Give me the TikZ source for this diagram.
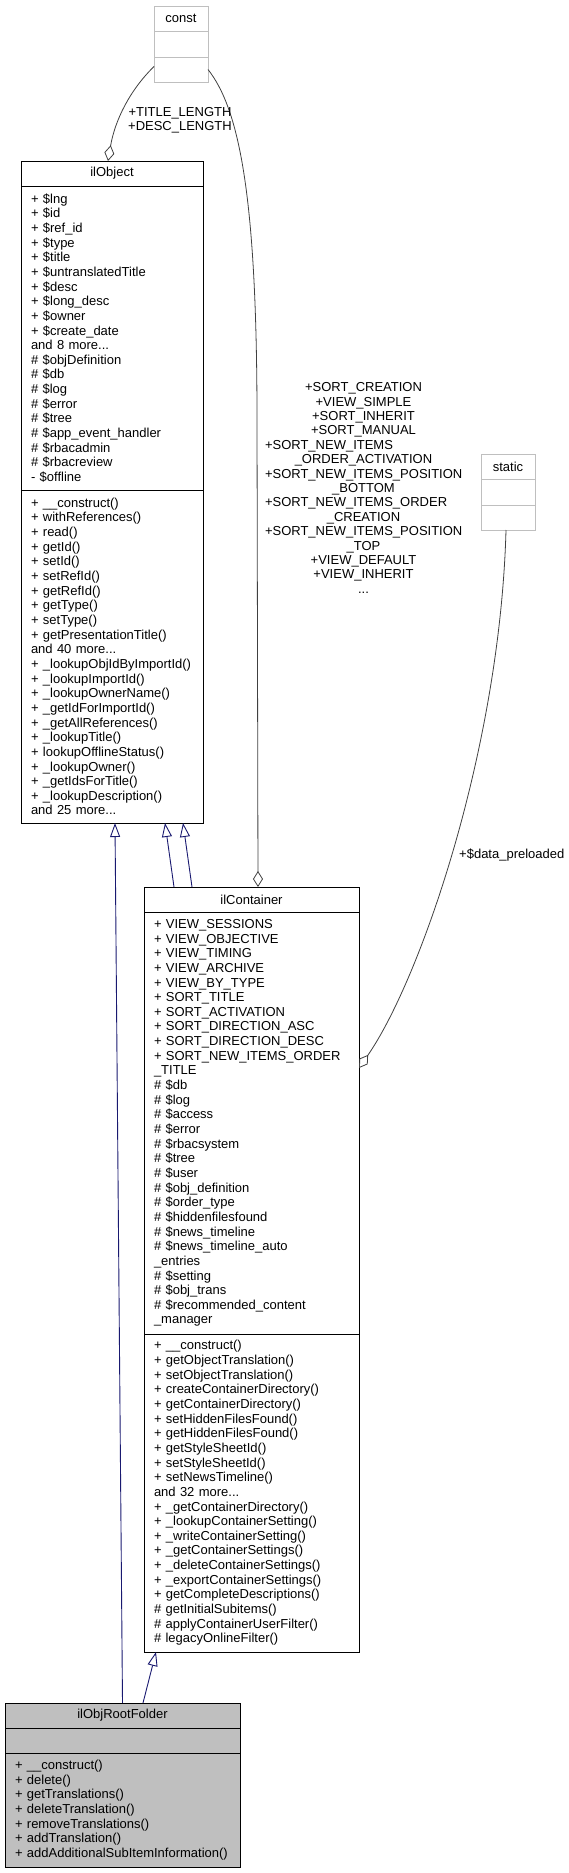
\documentclass[tikz,border=0pt]{standalone}
\usepackage{fontspec}
\setmainfont{Liberation Sans}
\usetikzlibrary{arrows.meta}
\definecolor{inheritblue}{HTML}{191970}
\definecolor{usegray}{HTML}{404040}
\definecolor{boxgray}{HTML}{BFBFBF}
\newcommand{\flushlabel}[1]{\makebox[197pt][l]{#1}}
\tikzset{
  umltext/.style={font=\fontsize{13}{14.65}\selectfont},
  umltitle/.style={draw, umltext, anchor=north west, inner sep=0pt, outer sep=0pt, line width=0.9pt},
  umlpart/.style={draw, umltext, anchor=north west, align=left, inner xsep=10pt, inner ysep=0pt, outer sep=0pt, line width=0.9pt},
  otherbox/.style={draw=boxgray},
  focusbox/.style={fill=boxgray},
  inherit/.style={inheritblue, line width=0.9pt, -{Triangle[open, length=14pt, width=10pt]}},
  aggr/.style={usegray, line width=0.8pt, -{Diamond[open, length=16pt, width=10pt]}},
  edgelabel/.style={font=\fontsize{13}{14.4}\selectfont, align=center, inner sep=0pt},
}

\begin{document}
\begin{tikzpicture}[x=1pt, y=-1pt]
  \useasboundingbox (0,0) rectangle (568,1873);

  % const
  \node[umltitle, otherbox, minimum width=54pt, minimum height=25pt] (const) at (154,6) {const};
  \node[umlpart, otherbox, minimum width=54pt, minimum height=26pt] (constattr) at (const.south west) {};
  \node[umlpart, otherbox, minimum width=54pt, minimum height=25pt] (constops) at (constattr.south west) {};

  % static
  \node[umltitle, otherbox, minimum width=54pt, minimum height=25pt] (static) at (481,454) {static};
  \node[umlpart, otherbox, minimum width=54pt, minimum height=26pt] (staticattr) at (static.south west) {};
  \node[umlpart, otherbox, minimum width=54pt, minimum height=25pt] (staticops) at (staticattr.south west) {};

  % ilObject
  \node[umltitle, minimum width=182pt, minimum height=25pt] (obj) at (21,161) {ilObject};
  \node[umlpart, text width=162pt, minimum height=304pt] (objattr) at (obj.south west) {%
    + \$lng\\
    + \$id\\
    + \$ref\_id\\
    + \$type\\
    + \$title\\
    + \$untranslatedTitle\\
    + \$desc\\
    + \$long\_desc\\
    + \$owner\\
    + \$create\_date\\
    and 8 more...\\
    \# \$objDefinition\\
    \# \$db\\
    \# \$log\\
    \# \$error\\
    \# \$tree\\
    \# \$app\_event\_handler\\
    \# \$rbacadmin\\
    \# \$rbacreview\\
    - \$offline};
  \node[umlpart, text width=162pt, minimum height=333pt] (objops) at (objattr.south west) {%
    + \_\_construct()\\
    + withReferences()\\
    + read()\\
    + getId()\\
    + setId()\\
    + setRefId()\\
    + getRefId()\\
    + getType()\\
    + setType()\\
    + getPresentationTitle()\\
    and 40 more...\\
    + \_lookupObjIdByImportId()\\
    + \_lookupImportId()\\
    + \_lookupOwnerName()\\
    + \_getIdForImportId()\\
    + \_getAllReferences()\\
    + \_lookupTitle()\\
    + lookupOfflineStatus()\\
    + \_lookupOwner()\\
    + \_getIdsForTitle()\\
    + \_lookupDescription()\\
    and 25 more...};

  % ilContainer
  \node[umltitle, minimum width=215pt, minimum height=25pt] (cont) at (144,887) {ilContainer};
  \node[umlpart, text width=195pt, minimum height=422pt] (contattr) at (cont.south west) {%
    + VIEW\_SESSIONS\\
    + VIEW\_OBJECTIVE\\
    + VIEW\_TIMING\\
    + VIEW\_ARCHIVE\\
    + VIEW\_BY\_TYPE\\
    + SORT\_TITLE\\
    + SORT\_ACTIVATION\\
    + SORT\_DIRECTION\_ASC\\
    + SORT\_DIRECTION\_DESC\\
    + SORT\_NEW\_ITEMS\_ORDER\\
    \_TITLE\\
    \# \$db\\
    \# \$log\\
    \# \$access\\
    \# \$error\\
    \# \$rbacsystem\\
    \# \$tree\\
    \# \$user\\
    \# \$obj\_definition\\
    \# \$order\_type\\
    \# \$hiddenfilesfound\\
    \# \$news\_timeline\\
    \# \$news\_timeline\_auto\\
    \_entries\\
    \# \$setting\\
    \# \$obj\_trans\\
    \# \$recommended\_content\\
    \_manager};
  \node[umlpart, text width=195pt, minimum height=318pt] (contops) at (contattr.south west) {%
    + \_\_construct()\\
    + getObjectTranslation()\\
    + setObjectTranslation()\\
    + createContainerDirectory()\\
    + getContainerDirectory()\\
    + setHiddenFilesFound()\\
    + getHiddenFilesFound()\\
    + getStyleSheetId()\\
    + setStyleSheetId()\\
    + setNewsTimeline()\\
    and 32 more...\\
    + \_getContainerDirectory()\\
    + \_lookupContainerSetting()\\
    + \_writeContainerSetting()\\
    + \_getContainerSettings()\\
    + \_deleteContainerSettings()\\
    + \_exportContainerSettings()\\
    + getCompleteDescriptions()\\
    \# getInitialSubitems()\\
    \# applyContainerUserFilter()\\
    \# legacyOnlineFilter()};

  % ilObjRootFolder
  \node[umltitle, focusbox, minimum width=235pt, minimum height=25pt] (fold) at (5,1703) {ilObjRootFolder};
  \node[umlpart, focusbox, minimum width=235pt, minimum height=25pt] (foldattr) at (fold.south west) {};
  \node[umlpart, focusbox, text width=215pt, minimum height=114pt] (foldops) at (foldattr.south west) {%
    + \_\_construct()\\
    + delete()\\
    + getTranslations()\\
    + deleteTranslation()\\
    + removeTranslations()\\
    + addTranslation()\\
    + addAdditionalSubItemInformation()};

  % uses
  \draw[aggr] ([yshift=3pt]constops.west) .. controls (130,90) and (115,120) .. ([xshift=-4pt]obj.north);
  \draw[aggr] (constops.east) .. controls (240,110) and (257,200) .. (257,420) -- ([xshift=6.5pt]cont.north);
  \draw[aggr] ([xshift=-2pt]staticops.south) .. controls (500,750) and (420,980) .. ([yshift=55pt]contattr.east);

  \node[edgelabel] (lenlabel) at (180,120) {+TITLE\_LENGTH\\+DESC\_LENGTH};
  \node[edgelabel] (sortlabel) at (363.5,488) {+SORT\_CREATION\\+VIEW\_SIMPLE\\+SORT\_INHERIT\\+SORT\_MANUAL\\
    \flushlabel{+SORT\_NEW\_ITEMS}\\\_ORDER\_ACTIVATION\\\flushlabel{+SORT\_NEW\_ITEMS\_POSITION}\\\_BOTTOM\\
    \flushlabel{+SORT\_NEW\_ITEMS\_ORDER}\\\_CREATION\\\flushlabel{+SORT\_NEW\_ITEMS\_POSITION}\\\_TOP\\
    +VIEW\_DEFAULT\\+VIEW\_INHERIT\\...};
  \node[edgelabel, anchor=west] (preloadlabel) at (459,855) {+\$data\_preloaded};

  % inheritance
  \draw[inherit] (fold.north) -- ([xshift=94pt]objops.south west);
  \draw[inherit] ([xshift=138pt]fold.north west) -- ([xshift=12pt]contops.south west);
  \draw[inherit] ([xshift=30pt]cont.north west) -- ([xshift=144pt]objops.south west);
  \draw[inherit] ([xshift=48pt]cont.north west) -- ([xshift=162pt]objops.south west);
\end{tikzpicture}
\end{document}
